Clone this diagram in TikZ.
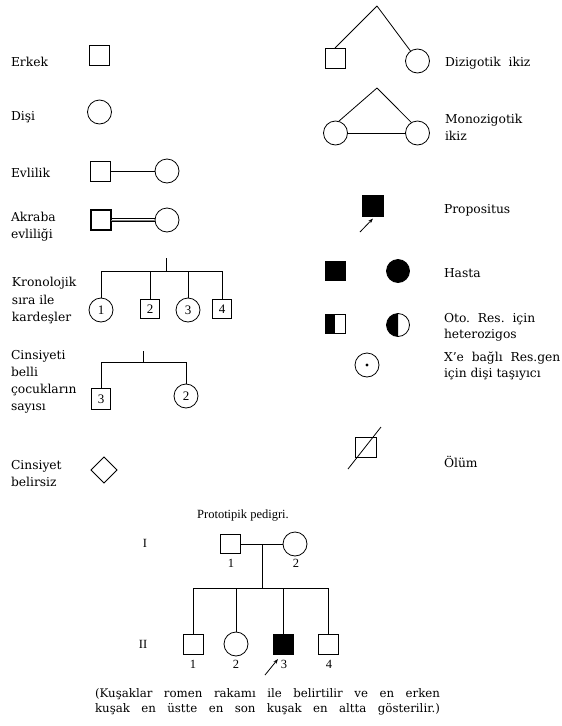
\documentclass[tikz,border=0pt]{standalone}
\usepackage{fontspec}
\setmainfont{DejaVu Serif}
\newfontfamily\tms{Liberation Serif}
\usetikzlibrary{shapes.geometric,arrows.meta}
\begin{document}
\begin{tikzpicture}[x=1pt,y=-1pt,
  every node/.style={inner sep=0pt, outer sep=0pt},
  ln/.style={line width=0.8pt},
  male/.style={draw, rectangle, minimum width=20pt, minimum height=20pt, line width=0.8pt, font=\tms\fontsize{13}{14}\selectfont},
  female/.style={draw, circle, minimum size=24pt, line width=0.8pt, font=\tms\fontsize{13}{14}\selectfont},
  lbl/.style={anchor=base west, font=\fontsize{12.3}{14}\selectfont},
  num/.style={anchor=base, font=\tms\fontsize{12.5}{14}\selectfont},
  pointer/.style={line width=0.8pt, -{Stealth[length=5pt,width=3.5pt]}},
  caption/.style={anchor=base west, font=\fontsize{11.8}{13}\selectfont},
]
\useasboundingbox[fill=white] (0,0) rectangle (562,726);

% ---------------- left column ----------------
\node[lbl] (tErkek) at (11,66) {Erkek};
\node[male] (erkek) at (99,55) {};

\node[lbl] (tDisi) at (11,120) {Dişi};
\node[female] (disi) at (99.5,112) {};

\node[lbl] (tEvl) at (11,177) {Evlilik};
\node[male] (evm) at (100,171) {};
\node[female] (evf) at (167,171) {};
\draw[ln] (evm) -- (evf);

\node[lbl] (tAkr1) at (11,221) {Akraba};
\node[lbl] (tAkr2) at (11,238) {evliliği};
\node[male, line width=1.6pt] (akm) at (101,220) {};
\node[female] (akf) at (167,220) {};
\draw[line width=0.9pt] ([yshift=1.8pt]akm.east) -- ([yshift=1.8pt]akf.west);
\draw[line width=0.9pt] ([yshift=-1.8pt]akm.east) -- ([yshift=-1.8pt]akf.west);
\draw[line width=0.6pt, gray] (akm.east) -- (akf.west);

\node[lbl] (tKr1) at (12,286) {Kronolojik};
\node[lbl] (tKr2) at (12,304) {sıra ile};
\node[lbl] (tKr3) at (12,321) {kardeşler};
\coordinate (krtop) at (166,258);
\coordinate (krbar) at (166,271);
\node[female] (k1) at (101,310) {1};
\node[male, minimum width=19pt, minimum height=19pt] (k2) at (150,309) {2};
\node[female] (k3) at (188,310) {3};
\node[male, minimum width=19pt, minimum height=19pt] (k4) at (222,309) {4};
\draw[ln] (krtop) -- (krbar);
\draw[ln] (k1.north) -- (k1.north |- krbar) -- (k4.north |- krbar) -- (k4.north);
\draw[ln] (k2.north) -- (k2.north |- krbar);
\draw[ln] (k3.north) -- (k3.north |- krbar);

\node[lbl] (tCs1) at (11,359) {Cinsiyeti};
\node[lbl] (tCs2) at (11,376) {belli};
\node[lbl] (tCs3) at (11,393) {çocukların};
\node[lbl] (tCs4) at (11,410) {sayısı};
\coordinate (cstop) at (143,351);
\coordinate (csbar) at (143,362);
\node[male, minimum width=19pt, minimum height=21pt] (c3) at (101,399) {3};
\node[female] (c2) at (186,396) {2};
\draw[ln] (cstop) -- (csbar);
\draw[ln] (c3.north) -- (c3.north |- csbar) -- (c2.north |- csbar) -- (c2.north);

\node[lbl] (tCb1) at (11,469) {Cinsiyet};
\node[lbl] (tCb2) at (11,486) {belirsiz};
\node[draw, diamond, minimum size=26pt, line width=0.8pt] (dia) at (104,470) {};

% ---------------- right column ----------------
\coordinate (dzap) at (377,6);
\node[male] (dzm) at (335,58) {};
\node[female] (dzf) at (417.5,61) {};
\draw[ln] (dzap) -- (dzm.north);
\draw[ln] (dzap) -- (dzf.125);
\node[lbl] (tDz) at (445,66) {Dizigotik\ \ ikiz};

\coordinate (mzap) at (377,88);
\node[female] (mz1) at (335.5,133) {};
\node[female] (mz2) at (417.5,133) {};
\draw[ln] (mzap) -- (mz1.75);
\draw[ln] (mzap) -- (mz2.120);
\draw[ln] (mz1) -- (mz2);
\node[lbl] (tMz1) at (445,123) {Monozigotik};
\node[lbl] (tMz2) at (445,140) {ikiz};

\node[male, fill=black, minimum width=21pt, minimum height=21pt] (prop) at (372.5,206) {};
\coordinate (propA) at (360,232);
\coordinate (propB) at (373,218.5);
\draw[pointer] (propA) -- (propB);
\node[lbl] (tProp) at (444,213) {Propositus};

\node[male, fill=black, minimum height=19pt] (hm) at (335,271) {};
\node[female, fill=black, minimum size=23pt] (hf) at (398,271) {};
\node[lbl] (tHasta) at (444,277) {Hasta};

\node[male, minimum height=19pt] (om) at (335,324) {};
\fill[black] (om.north west) rectangle (om.south);
\node[female, minimum size=23pt] (of) at (398,325) {};
\fill[black] (of.north) arc[start angle=90, end angle=270, radius=11.5pt] -- cycle;
\node[lbl] (tOto1) at (444,322) {Oto.\ \ Res.\ \ için};
\node[lbl] (tOto2) at (444,338) {heterozigos};

\node[female] (xc) at (367,365) {};
\fill[black] (xc.center) circle[radius=1.6pt];
\node[lbl] (tX1) at (444,361) {X'e\ \ bağlı\ \ Res.gen};
\node[lbl] (tX2) at (444,377) {için dişi taşıyıcı};

\node[male, minimum width=21pt] (olm) at (366,447) {};
\coordinate (olA) at (348,469);
\coordinate (olB) at (381,427);
\draw[ln] (olA) -- (olB);
\node[lbl] (tOlum) at (444,467) {Ölüm};

% ---------------- prototype pedigree ----------------
\node[anchor=base, font=\tms\fontsize{12.5}{14}\selectfont] (title) at (243,518) {Prototipik pedigri.};
\node[num] (gI) at (145,547) {I};
\node[num] (gII) at (143,648) {II};

\node[male, minimum height=19pt] (p1) at (230,544) {};
\node[female] (p2) at (295,544) {};
\draw[ln] (p1) -- (p2);
\coordinate (pmid) at (262,544);
\coordinate (pbar) at (262,588);
\draw[ln] (pmid) -- (pbar);
\node[num] (n11) at (231,567) {1};
\node[num] (n12) at (296,567) {2};

\node[male] (s1) at (193,644) {};
\node[female] (s2) at (236,644) {};
\node[male, fill=black] (s3) at (283,644) {};
\node[male] (s4) at (328,644) {};
\draw[ln] (s1.north) -- (s1.north |- pbar) -- (s4.north |- pbar) -- (s4.north);
\draw[ln] (s2.north) -- (s2.north |- pbar);
\draw[ln] (s3.north) -- (s3.north |- pbar);
\node[num] (n21) at (193,668) {1};
\node[num] (n22) at (236,668) {2};
\node[num] (n23) at (284,668) {3};
\node[num] (n24) at (329,668) {4};
\coordinate (s3A) at (265,675);
\coordinate (s3B) at (278,659);
\draw[pointer] (s3A) -- (s3B);

\node[caption] (cap1) at (95,697)
  {\makebox[345pt][s]{(Kuşaklar romen rakamı ile belirtilir ve en erken}};
\node[caption] (cap2) at (95,712)
  {\makebox[345pt][s]{kuşak en üstte en son kuşak en altta gösterilir.)}};
\end{tikzpicture}
\end{document}
